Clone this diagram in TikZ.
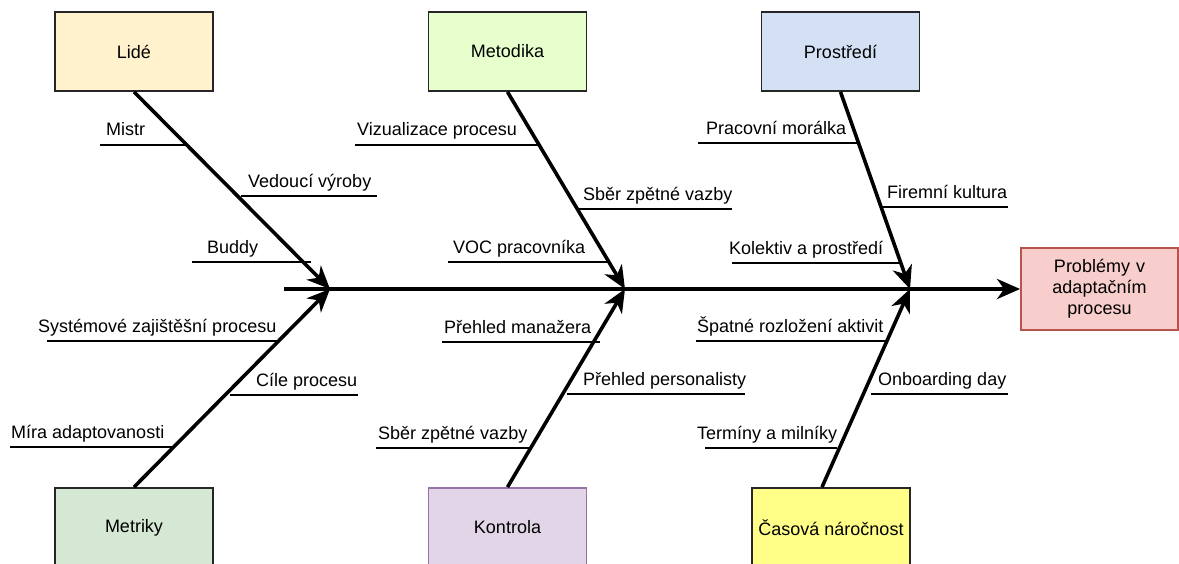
\documentclass[tikz,border=0pt]{standalone}
\usepackage{fontspec}
\setmainfont{Liberation Sans}
\usetikzlibrary{arrows.meta}

\definecolor{lideFill}{HTML}{FFF2CC}
\definecolor{metodikaFill}{HTML}{E6FFCC}
\definecolor{prostrediFill}{HTML}{D4E1F5}
\definecolor{problemFill}{HTML}{F8CECC}
\definecolor{problemLine}{HTML}{B85450}
\definecolor{metrikyFill}{HTML}{D5E8D4}
\definecolor{kontrolaFill}{HTML}{E1D5E7}
\definecolor{kontrolaLine}{HTML}{9673A6}
\definecolor{casFill}{HTML}{FFFF88}

\begin{document}
\begin{tikzpicture}[x=1pt,y=-1pt,
  txt/.style={font=\fontsize{18}{21}\selectfont},
  cat/.style={txt, draw=black!85, line width=1.8pt, minimum width=158pt,
    minimum height=79pt, inner sep=0pt, align=center},
  bone/.style={line width=3.6pt, -{Stealth[length=23pt,width=20pt,inset=7pt]}},
  twig/.style={line width=2pt},
  lbl/.style={txt, anchor=base west, inner sep=0pt},
]
\useasboundingbox (0,0) rectangle (1179,564);
\clip (0,0) rectangle (1179,564);

% category boxes
\node[cat, fill=lideFill]      (lide)      at (134,51.5)  {Lidé};
\node[cat, fill=metodikaFill]  (metodika)  at (507.5,51.5) {Metodika};
\node[cat, fill=prostrediFill] (prostredi) at (840.5,51.5) {Prostředí};
\node[cat, fill=metrikyFill]   (metriky)   at (134,527.5) {Metriky};
\node[cat, fill=kontrolaFill, draw=kontrolaLine] (kontrola) at (507.5,527.5) {Kontrola};
\node[cat, fill=casFill]       (cas)       at (831,527.5) {Časová náročnost};

% effect box
\node[cat, fill=problemFill, draw=problemLine, minimum width=157pt,
  minimum height=82pt, text width=150pt]
  (problem) at (1099.5,289) {Problémy v\\adaptačním\\procesu};

% spine and its joints
\coordinate (tail) at (284,289);
\coordinate (j1) at (330,289);
\coordinate (j2) at (625,289);
\coordinate (j3) at (910,289);
\draw[bone, line width=4pt] (tail) -- (problem.west);

% main bones
\draw[bone] (lide.south) -- (j1);
\draw[bone] (metodika.south) -- (j2);
\draw[bone] (prostredi.south) -- (j3);
\draw[bone] (metriky.north) -- (j1);
\draw[bone] (kontrola.north) -- (j2);
\draw[bone] ([xshift=-9pt]cas.north) -- (j3);

% Lidé causes
\draw[twig] (100,145) -- (187,145);  \node[lbl] (c11) at (106,136) {Mistr};
\draw[twig] (241,196) -- (377,196);  \node[lbl] (c12) at (248,187.5) {Vedoucí výroby};
\draw[twig] (192,262) -- (311,262);  \node[lbl] (c13) at (207,253.5) {Buddy};

% Metodika causes
\draw[twig] (355,145) -- (540,145);  \node[lbl] (c21) at (357,136) {Vizualizace procesu};
\draw[twig] (578,209) -- (732,209);  \node[lbl] (c22) at (583,200.5) {Sběr zpětné vazby};
\draw[twig] (448,262) -- (610,262);  \node[lbl] (c23) at (453,253.5) {VOC pracovníka};

% Prostředí causes
\draw[twig] (698,143) -- (859,143);  \node[lbl] (c31) at (706,134.5) {Pracovní morálka};
\draw[twig] (882,207) -- (1008,207); \node[lbl] (c32) at (887,198.5) {Firemní kultura};
\draw[twig] (732,263) -- (899,263);  \node[lbl] (c33) at (729,254.5) {Kolektiv a prostředí};

% Metriky causes
\draw[twig] (47,341) -- (279,341);   \node[lbl] (c41) at (38,332.5) {Systémové zajištěšní procesu};
\draw[twig] (230,395) -- (358,395);  \node[lbl] (c42) at (256,386.5) {Cíle procesu};
\draw[twig] (10,447) -- (175,447);   \node[lbl] (c43) at (11,438.5) {Míra adaptovanosti};

% Kontrola causes
\draw[twig] (442,342) -- (600,342);  \node[lbl] (c51) at (444,333.5) {Přehled manažera};
\draw[twig] (567,394) -- (745,394);  \node[lbl] (c52) at (583,385.5) {Přehled personalisty};
\draw[twig] (376,448) -- (532,448);  \node[lbl] (c53) at (378,439.5) {Sběr zpětné vazby};

% Časová náročnost causes
\draw[twig] (696,341) -- (887,341);  \node[lbl] (c61) at (697,332.5) {Špatné rozložení aktivit};
\draw[twig] (871,394) -- (1008,394); \node[lbl] (c62) at (878,385.5) {Onboarding day};
\draw[twig] (705,448) -- (837,448);  \node[lbl] (c63) at (697,439.5) {Termíny a milníky};
\end{tikzpicture}
\end{document}
